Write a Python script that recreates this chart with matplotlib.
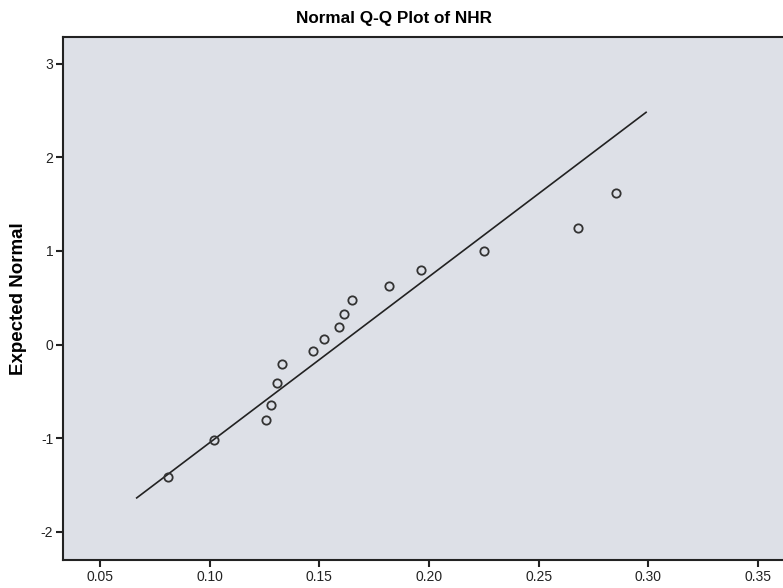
import matplotlib.pyplot as plt

observed = [0.0811, 0.1021, 0.1256, 0.1278, 0.1308, 0.1330, 0.1470, 0.1521,
            0.1590, 0.1611, 0.1651, 0.1816, 0.1964, 0.2251, 0.2679, 0.2851]
expected = [-1.418, -1.014, -0.808, -0.642, -0.414, -0.206, -0.068, 0.060,
            0.191, 0.329, 0.471, 0.630, 0.800, 0.999, 1.247, 1.615]

# reference line end points
line_x = [0.0667, 0.299]
line_y = [-1.637, 2.479]

xticks = [0.05, 0.10, 0.15, 0.20, 0.25, 0.30, 0.35]
yticks = [-2, -1, 0, 1, 2, 3]

plt.rcParams['font.family'] = ['Liberation Sans', 'DejaVu Sans']
plt.rcParams['axes.unicode_minus'] = False

fig = plt.figure(figsize=(7.83, 5.88), dpi=100)
ax = fig.add_axes([0.0805, 0.0476, 0.925, 0.889])
ax.set_facecolor('#dde0e7')

ax.plot(line_x, line_y, color='#222222', lw=1.2)
ax.plot(observed, expected, 'o', mfc='none', mec='#333333', ms=6, mew=1.3)

ax.set_xlim(0.0331, 0.3634)
ax.set_ylim(-2.30, 3.28)
ax.set_xticks(xticks)
ax.set_xticklabels(['%.2f' % v for v in xticks])
ax.set_yticks(yticks)
ax.tick_params(axis='both', direction='out', length=5, width=1.5, labelsize=10,
               colors='#222222', pad=2)

for s in ax.spines.values():
    s.set_linewidth(1.5)
    s.set_color('#222222')

fig.text(0.503, 0.968, 'Normal Q-Q Plot of NHR', ha='center', va='center',
         fontsize=12.3, fontweight='bold')
ax.set_ylabel('Expected Normal', fontsize=13.5, fontweight='bold', labelpad=10)

fig.savefig('out.png', dpi=100)
